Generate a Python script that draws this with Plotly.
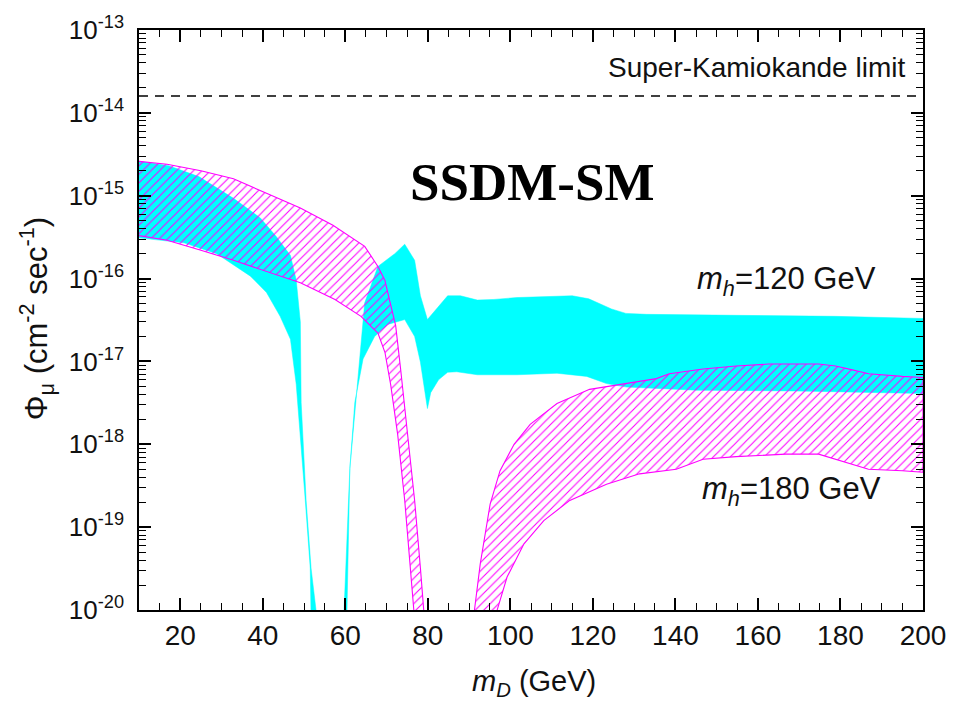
import plotly.graph_objects as go

# m_h = 120 GeV band, low-mass branch (upper / lower edges)
h120_a_up_x = [10, 17.2, 24.5, 32.9, 39.4, 43.3, 46.7, 48.1, 49.1, 49.3, 50.5, 51.7, 52.9, 53.2]
h120_a_up_y = [2.6e-15, 2.3e-15, 1.7e-15, 9.3e-16, 5.4e-16, 3.2e-16, 1.9e-16, 9.6e-17, 3.0e-17,
               3.2e-18, 2.1e-19, 3.2e-20, 1.0e-20, 1.0e-21]
h120_a_lo_x = [10, 20.9, 28.8, 37.0, 40.9, 44.2, 46.7, 48.1, 49.1, 50.3, 51.5, 51.7, 52.0]
h120_a_lo_y = [3.1e-16, 2.7e-16, 2.0e-16, 1.07e-16, 6.8e-17, 3.5e-17, 1.85e-17, 5.3e-18, 1.3e-18,
               2.1e-19, 3.2e-20, 1.0e-20, 1.0e-21]

# m_h = 120 GeV band, high-mass branch
h120_b_up_x = [59.4, 59.7, 61.1, 62.6, 64.7, 67.9, 72.0, 74.4, 76.8, 78.2, 79.9, 84.8, 87.9, 92.0,
               96.0, 101.6, 109.0, 115.0, 119.0, 121.6, 124.5, 128.0, 133.0, 154.7, 178.8, 200]
h120_b_up_y = [1.0e-21, 1.0e-20, 5.1e-19, 3.2e-18, 5.1e-17, 1.4e-16, 2.0e-16, 2.6e-16, 1.66e-16,
               6.2e-17, 3.2e-17, 6.2e-17, 6.2e-17, 5.5e-17, 5.6e-17, 5.9e-17, 6.1e-17, 6.2e-17,
               5.7e-17, 5.0e-17, 4.3e-17, 3.8e-17, 3.7e-17, 3.6e-17, 3.5e-17, 3.3e-17]
h120_b_lo_x = [60.0, 60.2, 61.1, 62.3, 64.3, 67.1, 70.3, 74.4, 76.8, 78.2, 79.9, 80.7, 82.6, 84.8,
               87.0, 92.0, 101.6, 111.3, 118.5, 123.3, 128.2, 145.0, 169.2, 200]
h120_b_lo_y = [1.0e-21, 1.0e-20, 5.1e-19, 3.2e-18, 1.07e-17, 2.0e-17, 2.8e-17, 3.2e-17, 2.0e-17,
               9.8e-18, 2.7e-18, 4.2e-18, 6.0e-18, 7.4e-18, 7.5e-18, 6.9e-18, 6.9e-18, 7.2e-18,
               6.6e-18, 5.4e-18, 4.9e-18, 4.5e-18, 4.4e-18, 4.1e-18]

# m_h = 180 GeV band, low-mass branch
h180_a_up_x = [10, 16.8, 25.0, 32.9, 40.9, 49.1, 57.0, 64.7, 67.9, 69.6, 70.3, 72.2, 73.4, 75.1,
               76.8, 78.2, 79.0, 79.2]
h180_a_up_y = [2.6e-15, 2.4e-15, 2.0e-15, 1.6e-15, 1.07e-15, 7.1e-16, 4.4e-16, 2.45e-16, 1.4e-16,
               9.5e-17, 6.7e-17, 2.7e-17, 8.1e-18, 1.3e-18, 2.1e-19, 3.2e-20, 1.0e-20, 1.0e-21]
h180_a_lo_x = [10, 16.8, 25.0, 32.9, 40.9, 49.1, 57.5, 63.8, 67.9, 69.6, 71.0, 72.7, 74.4, 75.8,
               76.6, 76.8]
h180_a_lo_y = [3.3e-16, 2.9e-16, 2.2e-16, 1.66e-16, 1.23e-16, 8.9e-17, 5.6e-17, 3.5e-17, 2.2e-17,
               1.29e-17, 5.2e-18, 1.3e-18, 2.1e-19, 3.2e-20, 1.0e-20, 1.0e-21]

# m_h = 180 GeV band, high-mass branch
h180_b_up_x = [91.0, 91.3, 92.7, 95.1, 97.5, 100.9, 104.8, 111.3, 119.2, 127.4, 135.4, 138.5,
               146.7, 154.7, 162.6, 174.7, 178.8, 182.9, 186.8, 195.0, 200]
h180_b_up_y = [1.0e-21, 1.0e-20, 3.6e-20, 1.9e-19, 4.8e-19, 1.0e-18, 1.74e-18, 3.1e-18, 4.6e-18,
               5.4e-18, 6.2e-18, 7.1e-18, 8.1e-18, 8.8e-18, 9.3e-18, 9.3e-18, 8.8e-18, 7.9e-18,
               7.1e-18, 6.6e-18, 6.4e-18]
h180_b_lo_x = [97.0, 96.8, 99.2, 103.3, 108.1, 114.4, 123.3, 131.3, 140.2, 146.7, 154.7, 166.7,
               174.7, 178.8, 186.8, 195.0, 200]
h180_b_lo_y = [1.0e-21, 1.0e-20, 2.5e-20, 6.3e-20, 1.2e-19, 2.1e-19, 3.3e-19, 4.4e-19, 5.0e-19,
               6.6e-19, 7.1e-19, 7.6e-19, 7.6e-19, 6.6e-19, 5.0e-19, 4.8e-19, 4.6e-19]

sk_limit = 1.6e-14
x_range = [10, 200]
y_decades = [-20, -19, -18, -17, -16, -15, -14, -13]
x_ticks = [20, 40, 60, 80, 100, 120, 140, 160, 180, 200]

FONT = "Arial, Liberation Sans, sans-serif"
TEXT = "#111111"
CYAN = "#00FFFF"
MAGENTA = "#FF00FF"


def band(xu, yu, xl, yl):
    """Closed outline: upper edge left-to-right, lower edge back."""
    return list(xu) + list(xl)[::-1], list(yu) + list(yl)[::-1]


fig = go.Figure()

for xu, yu, xl, yl in [(h120_a_up_x, h120_a_up_y, h120_a_lo_x, h120_a_lo_y),
                       (h120_b_up_x, h120_b_up_y, h120_b_lo_x, h120_b_lo_y)]:
    bx, by = band(xu, yu, xl, yl)
    fig.add_trace(go.Scatter(x=bx, y=by, mode="lines", fill="toself",
                             fillcolor=CYAN, line=dict(color=CYAN, width=0.5),
                             hoverinfo="skip", showlegend=False))

for xu, yu, xl, yl in [(h180_a_up_x, h180_a_up_y, h180_a_lo_x, h180_a_lo_y),
                       (h180_b_up_x, h180_b_up_y, h180_b_lo_x, h180_b_lo_y)]:
    bx, by = band(xu, yu, xl, yl)
    fig.add_trace(go.Scatter(x=bx, y=by, mode="lines", fill="toself",
                             fillcolor="rgba(0,0,0,0)",
                             fillpattern=dict(shape="/", fgcolor=MAGENTA,
                                              bgcolor="rgba(0,0,0,0)",
                                              fillmode="replace", size=6, solidity=0.18),
                             line=dict(color=MAGENTA, width=1.1),
                             hoverinfo="skip", showlegend=False))

# Super-Kamiokande upper limit
fig.add_trace(go.Scatter(x=x_range, y=[sk_limit, sk_limit], mode="lines",
                         line=dict(color="black", width=1.5, dash="9px,7px"),
                         hoverinfo="skip", showlegend=False))

minor_y = [m * 10.0 ** d for d in y_decades[:-1] for m in range(2, 10)]

fig.update_xaxes(range=x_range, tickvals=x_ticks, ticks="inside", ticklen=12, tickwidth=1.5,
                 tickcolor="black", showline=True, linecolor="black", linewidth=1.5,
                 mirror="ticks", showgrid=False, zeroline=False,
                 tickfont=dict(family=FONT, size=28, color=TEXT), ticklabelstandoff=0,
                 minor=dict(dtick=5, tick0=0, ticks="inside", ticklen=7, tickwidth=1.2,
                            tickcolor="black", showgrid=False))
fig.update_yaxes(type="log", range=[y_decades[0], y_decades[-1]],
                 tickvals=[10.0 ** d for d in y_decades],
                 ticktext=[f"10<sup>{d}</sup>" for d in y_decades],
                 ticks="inside", ticklen=12, tickwidth=1.5, tickcolor="black",
                 showline=True, linecolor="black", linewidth=1.5, mirror="ticks",
                 showgrid=False, zeroline=False,
                 tickfont=dict(family=FONT, size=26, color=TEXT), ticklabelstandoff=8,
                 minor=dict(tickvals=minor_y, ticks="inside", ticklen=7, tickwidth=1.2,
                            tickcolor="black", showgrid=False))

annotations = [
    dict(text="<b>SSDM-SM</b>", x=535, y=178, xref="paper", yref="paper",
         font=dict(family="Liberation Serif, Times New Roman, serif", size=53, color="black")),
    dict(text="Super-Kamiokande limit", x=912, y=63, xref="paper", yref="paper",
         xanchor="right", font=dict(family=FONT, size=28, color=TEXT)),
    dict(text="<i>m</i><sub><i>h</i></sub>=120 GeV", x=883, y=278, xref="paper", yref="paper",
         xanchor="right", font=dict(family=FONT, size=31, color=TEXT)),
    dict(text="<i>m</i><sub><i>h</i></sub>=180 GeV", x=888, y=490, xref="paper", yref="paper",
         xanchor="right", font=dict(family=FONT, size=31, color=TEXT)),
    dict(text="<i>m</i><sub><i>D</i></sub> (GeV)", x=537, y=684, xref="paper", yref="paper",
         font=dict(family=FONT, size=29, color=TEXT)),
    dict(text="Φ<sub>μ</sub> (cm<sup>-2</sup> sec<sup>-1</sup>)", x=36, y=316,
         xref="paper", yref="paper", textangle=-90,
         font=dict(family=FONT, size=31, color=TEXT)),
]

# Placements above are given in page pixels; map them to paper coordinates
L, R, T, B = 139, 928, 25, 610
for a in annotations:
    a["y"] = (B - a["y"]) / (B - T)
    a["x"] = (a["x"] - L) / (R - L)
    a.setdefault("showarrow", False)
    a.setdefault("xanchor", "center")
    a["yanchor"] = "middle"

fig.update_layout(width=958, height=704, margin=dict(l=L, r=958 - R, t=T, b=704 - B),
                  paper_bgcolor="white", plot_bgcolor="white", annotations=annotations)

fig.write_html("out.html")
